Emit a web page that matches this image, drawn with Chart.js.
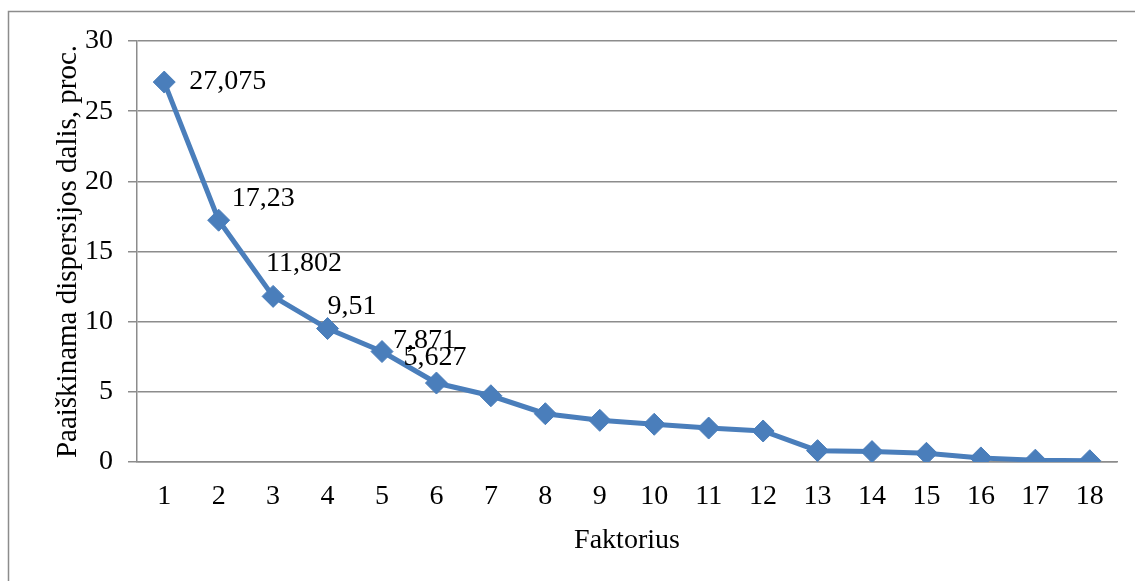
<!DOCTYPE html>
<html>
<head>
<meta charset="utf-8">
<script src="https://cdn.jsdelivr.net/npm/chart.js@4/dist/chart.umd.min.js"></script>
<style>
  html, body { margin: 0; padding: 0; background: #fff; }
  #wrap { width: 1135px; height: 581px; }
</style>
</head>
<body>
<div id="wrap"><canvas id="scree" width="1135" height="581"></canvas></div>
<script>
// --- data ---
const factors = ["1","2","3","4","5","6","7","8","9","10","11","12","13","14","15","16","17","18"];
const variance = [27.075, 17.23, 11.802, 9.51, 7.871, 5.627, 4.72, 3.44, 2.97, 2.69, 2.42, 2.21, 0.81, 0.74, 0.62, 0.29, 0.13, 0.09];
const labelledCount = 6; // only the first six points carry value labels
const yTicks = [0, 5, 10, 15, 20, 25, 30];

const FONT = "'Liberation Serif', 'Times New Roman', serif";
const BLUE = "#4a7ebb";
const GRID = "#8c8c8c";

// label placement next to each labelled point (dx, dy from the marker)
const labelShift = [[25, 0], [13, -22], [-7, -33], [0, -22], [11, -11], [-33, -25]];

const frame = {
  id: "frame",
  beforeDraw(chart) {
    const c = chart.ctx;
    c.save();
    c.fillStyle = "#fff";
    c.fillRect(0, 0, chart.width, chart.height);
    c.strokeStyle = GRID;
    c.lineWidth = 1.5;
    c.beginPath();
    c.moveTo(8.5, chart.height + 5);
    c.lineTo(8.5, 11.5);
    c.lineTo(chart.width + 5, 11.5);
    c.stroke();
    c.restore();
  },
};

const valueLabels = {
  id: "valueLabels",
  afterDatasetsDraw(chart) {
    const c = chart.ctx;
    const pts = chart.getDatasetMeta(0).data;
    c.save();
    c.font = "28px " + FONT;
    c.fillStyle = "#000";
    c.textAlign = "left";
    c.textBaseline = "middle";
    for (let i = 0; i < labelledCount; i++) {
      const txt = String(variance[i]).replace(".", ",");
      c.fillText(txt, pts[i].x + labelShift[i][0], pts[i].y + labelShift[i][1]);
    }
    c.restore();
  },
};

new Chart(document.getElementById("scree"), {
  type: "line",
  data: {
    labels: factors,
    datasets: [
      {
        data: variance,
        borderColor: BLUE,
        backgroundColor: BLUE,
        borderWidth: 5,
        pointStyle: "rectRot",
        pointRadius: 11,
        pointBorderWidth: 1,
        pointBorderColor: BLUE,
        pointBackgroundColor: BLUE,
        tension: 0,
      },
    ],
  },
  options: {
    responsive: false,
    animation: false,
    layout: { padding: { top: 41, right: 18, bottom: 0, left: 0 } },
    plugins: {
      legend: { display: false },
      tooltip: { enabled: false },
    },
    scales: {
      x: {
        offset: true,
        grid: { display: false },
        border: { display: true, color: GRID, width: 1.5 },
        ticks: { color: "#000", font: { family: FONT, size: 28 }, padding: 10, maxRotation: 0, autoSkip: false },
        title: {
          display: true,
          text: "Faktorius",
          color: "#000",
          font: { family: FONT, size: 28, lineHeight: 1.2 },
          padding: { top: 0, bottom: 24 },
        },
        afterFit(scale) { scale.height = 119; },
      },
      y: {
        min: 0,
        max: 30,
        afterBuildTicks(scale) { scale.ticks = yTicks.map(v => ({ value: v })); },
        grid: { color: GRID, lineWidth: 1.5, tickLength: 9, drawTicks: true },
        border: { display: true, color: GRID, width: 1.5 },
        ticks: { color: "#000", font: { family: FONT, size: 28 }, padding: 15 },
        title: {
          display: true,
          text: "Paaiškinama dispersijos dalis, proc.",
          color: "#000",
          font: { family: FONT, size: 29, lineHeight: 1.2 },
          padding: { top: 51, bottom: 0 },
        },
        afterFit(scale) { scale.width = 137; },
      },
    },
  },
  plugins: [frame, valueLabels],
});
</script>
</body>
</html>
